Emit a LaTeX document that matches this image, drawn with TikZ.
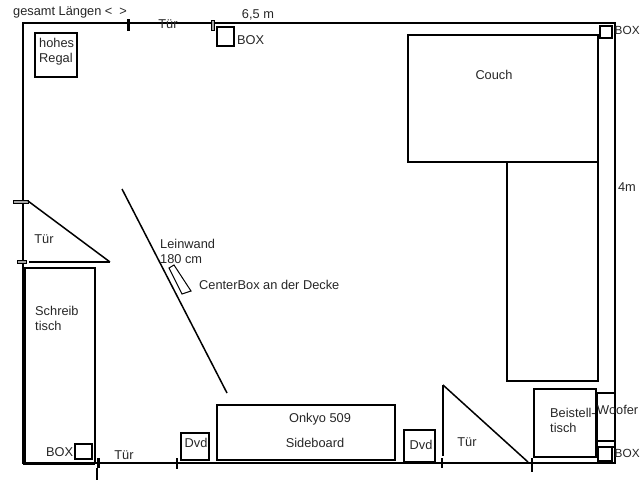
\documentclass[tikz,border=0pt]{standalone}
\usepackage{fontspec}
\setmainfont{Liberation Sans}
\tikzset{>=latex}
\tikzset{
  label text/.style={text=black!85, inner sep=0pt, font=\fontsize{12.8}{15}\selectfont, align=left},
  edge text/.style={label text, font=\fontsize{11.8}{14}\selectfont},
  furniture/.style={draw, line width=1.5pt},
  wall tick/.style={line width=3pt},
  hinge/.style={draw, fill=gray!70, line width=1pt}
}

\begin{document}
\begin{tikzpicture}[x=1pt, y=-1pt]
\useasboundingbox (0,0) rectangle (640,480);
% room
\draw[line width=2pt] (23,23) rectangle (615,463);
\draw[line width=3pt] (24,268) -- (24,463) -- (95,463);
% furniture
\draw[furniture] (35,33) rectangle (77,77);
\draw[furniture] (217,27) rectangle (234,46);
\draw[furniture] (408,35) rectangle (598,162);
\draw[furniture] (507,162) rectangle (598,381);
\draw[furniture] (600,26) rectangle (612,38);
\draw[furniture] (25,268) rectangle (95,463);
\draw[furniture] (75,444) rectangle (92,459);
\draw[furniture] (181,433) rectangle (209,460);
\draw[furniture] (217,405) rectangle (395,460);
\draw[furniture] (404,430) rectangle (435,462);
\draw[furniture] (534,389) rectangle (596,457);
\draw[furniture] (597,393) rectangle (615,441);
\draw[furniture] (597,441) rectangle (615,447);
\draw[furniture] (598,447) rectangle (612,461);
% doors
\draw[hinge] (13,200) rectangle (28,203);
\draw[hinge] (17,260) rectangle (26,263);
\draw[line width=1.5pt] (28,201) -- (110,262);
\draw[line width=2pt] (29,262) -- (110,262);
\draw[line width=2pt] (443,385) -- (443,456);
\draw[line width=1.5pt] (443,385) -- (528,462);
\draw[hinge] (211,20) rectangle (214,30);
% ticks
\draw[wall tick] (128,19) -- (128,31);
\draw[wall tick] (98,458) -- (98,468);
\draw[line width=1.5pt] (97,468) -- (97,480);
\draw[line width=2pt] (177,458) -- (177,469);
\draw[line width=2pt] (442,458) -- (442,468);
\draw[line width=2pt] (532,458) -- (532,472);
% screen
\draw[line width=1.5pt] (122,189) -- (227,393);
\draw[line width=1pt] (169,268) -- (174,265) -- (191,291) -- (182,294) -- cycle;
% labels
\node[label text, anchor=west] (laengen) at (13,12) {gesamt Längen <\hspace{7pt}>};
\node[label text] (tuerTop) at (168,24) {Tür};
\node[label text] (breite) at (258,15) {6,5 m};
\node[label text, anchor=west] (boxTop) at (237,40) {BOX};
\node[label text, anchor=west] (regal) at (39,52) {hohes\\Regal};
\node[label text] (couch) at (494,75) {Couch};
\node[edge text, anchor=west] (boxRight) at (614.5,30) {BOX};
\node[label text] (hoehe) at (627,187) {4m};
\node[label text] (tuerLeft) at (44,239) {Tür};
\node[label text, anchor=west] (leinwand) at (160,251) {Leinwand\\180 cm};
\node[label text, anchor=west] (centerbox) at (199,285) {CenterBox an der Decke};
\node[label text, anchor=west] (schreib) at (35,318) {Schreib\\tisch};
\node[label text, anchor=west] (boxDesk) at (46,452) {BOX};
\node[label text] (tuerBottom) at (124,455) {Tür};
\node[label text] (dvdLeft) at (196,443) {Dvd};
\node[label text] (onkyo) at (320,419) {Onkyo 509};
\node[label text] (sideboard) at (315,443) {Sideboard};
\node[label text] (dvdRight) at (421,445) {Dvd};
\node[label text] (tuerRight) at (467,442) {Tür};
\node[label text, anchor=west] (beistell) at (550,420) {Beistell-\\tisch};
\node[label text, anchor=west] (woofer) at (597,410) {Woofer};
\node[edge text, anchor=west] (boxBottom) at (614.5,453) {BOX};
\end{tikzpicture}
\end{document}
